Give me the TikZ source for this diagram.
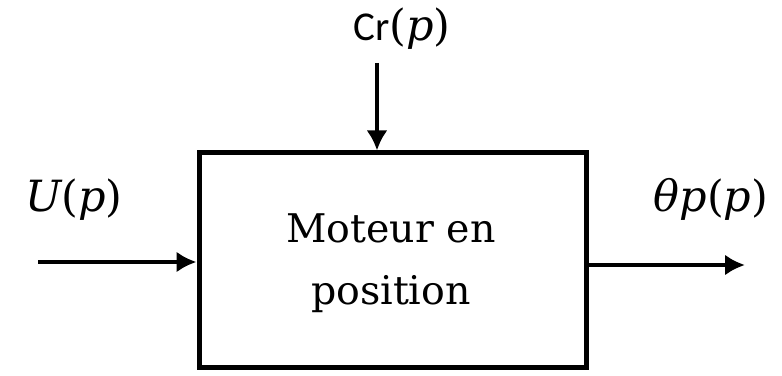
\documentclass[tikz,border=0pt]{standalone}
\usepackage{fontspec}
\setmainfont{DejaVu Serif}
\newfontfamily\itfnt{DejaVu Serif Italic}
\newfontfamily\crfont{Carlito}
\usetikzlibrary{arrows.meta}
\tikzset{
  blockbox/.style={draw, line width=5pt, minimum width=387pt, minimum height=214pt, inner sep=0pt},
  sig/.style={line width=4.5pt, -{Latex[length=20pt,width=21pt]}},
  lbl/.style={anchor=base, inner sep=0pt, font=\fontsize{43}{50}\selectfont},
  inlbl/.style={anchor=base, inner sep=0pt, font=\fontsize{39.5}{46}\selectfont}
}
\begin{document}
\begin{tikzpicture}[x=1pt,y=1pt]
\useasboundingbox (0,0) rectangle (782,375);
\node[blockbox] (blk) at (392.5,115) {};
\node[inlbl] (t1) at (391,132) {Moteur en};
\node[inlbl] (t2) at (391,70) {position};
\coordinate (uin) at (38,113);
\coordinate (yout) at (745,110);
\coordinate (crin) at (377,312);
\draw[sig] (uin) -- (uin -| blk.west);
\draw[sig] (yout -| blk.east) -- (yout);
\draw[sig] (crin) -- (crin |- blk.north);
\node[lbl] (ulbl) at (74,163) {{\itfnt U}({\itfnt p})};
\node[lbl] (ylbl) at (711,163) {{\itfnt θp}({\itfnt p})};
\node[lbl] (crlbl) at (402,334) {{\crfont\fontsize{41}{46}\selectfont Cr}({\itfnt p})};
\end{tikzpicture}
\end{document}
